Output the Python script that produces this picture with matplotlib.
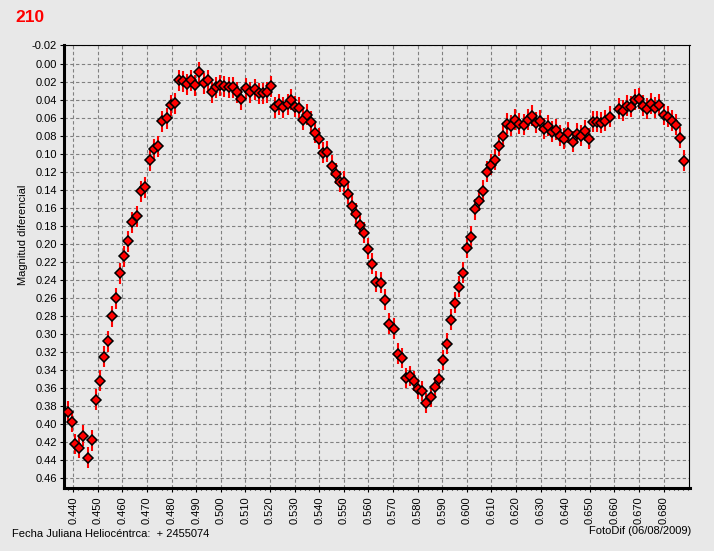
import matplotlib
matplotlib.use("Agg")
import matplotlib.pyplot as plt
from matplotlib.ticker import MultipleLocator, FixedLocator, FormatStrFormatter

plt.rcParams['font.family'] = ['Liberation Sans', 'DejaVu Sans']

# ---------------------------------------------------------------------
# Datos: fecha juliana (fraccion, + 2455074) y magnitud diferencial
# ---------------------------------------------------------------------
fecha = [
    0.4378, 0.4395, 0.4407, 0.4423, 0.4439, 0.4460, 0.4476, 0.4492, 0.4508, 0.4525,
    0.4541, 0.4557, 0.4573, 0.4590, 0.4606, 0.4622, 0.4638, 0.4659, 0.4675, 0.4691,
    0.4712, 0.4728, 0.4744, 0.4760, 0.4781, 0.4797, 0.4813, 0.4831, 0.4847, 0.4864,
    0.4880, 0.4896, 0.4912, 0.4933, 0.4949, 0.4965, 0.4982, 0.4998, 0.5014, 0.5034,
    0.5051, 0.5067, 0.5083, 0.5104, 0.5120, 0.5140, 0.5156, 0.5173, 0.5189, 0.5205,
    0.5221, 0.5238, 0.5254, 0.5274, 0.5286, 0.5303, 0.5319, 0.5335, 0.5351, 0.5368,
    0.5384, 0.5400, 0.5417, 0.5433, 0.5453, 0.5469, 0.5486, 0.5502, 0.5518, 0.5534,
    0.5551, 0.5567, 0.5583, 0.5599, 0.5616, 0.5632, 0.5652, 0.5669, 0.5685, 0.5703,
    0.5719, 0.5735, 0.5751, 0.5768, 0.5784, 0.5800, 0.5817, 0.5833, 0.5853, 0.5869,
    0.5886, 0.5902, 0.5918, 0.5934, 0.5951, 0.5967, 0.5983, 0.5999, 0.6016, 0.6034,
    0.6050, 0.6066, 0.6082, 0.6099, 0.6115, 0.6131, 0.6147, 0.6164, 0.6180, 0.6196,
    0.6212, 0.6233, 0.6249, 0.6265, 0.6282, 0.6298, 0.6314, 0.6330, 0.6347, 0.6363,
    0.6379, 0.6395, 0.6412, 0.6432, 0.6448, 0.6464, 0.6481, 0.6497, 0.6514, 0.6530,
    0.6546, 0.6562, 0.6583, 0.6619, 0.6636, 0.6652, 0.6668, 0.6684, 0.6701, 0.6717,
    0.6733, 0.6749, 0.6766, 0.6782, 0.6802, 0.6818, 0.6835, 0.6851, 0.6867, 0.6883,
]
magnitud = [
    0.3863, 0.3974, 0.4222, 0.4263, 0.4130, 0.4374, 0.4181, 0.3730, 0.3519, 0.3252,
    0.3085, 0.2807, 0.2607, 0.2330, 0.2141, 0.1974, 0.1763, 0.1696, 0.1419, 0.1374,
    0.1074, 0.0952, 0.0919, 0.0641, 0.0607, 0.0463, 0.0441, 0.0185, 0.0196, 0.0230,
    0.0185, 0.0241, 0.0096, 0.0219, 0.0185, 0.0319, 0.0263, 0.0241, 0.0252, 0.0263,
    0.0263, 0.0319, 0.0396, 0.0274, 0.0319, 0.0285, 0.0330, 0.0330, 0.0319, 0.0252,
    0.0485, 0.0452, 0.0485, 0.0452, 0.0400, 0.0478, 0.0489, 0.0622, 0.0567, 0.0644,
    0.0767, 0.0833, 0.0989, 0.0978, 0.1133, 0.1222, 0.1311, 0.1311, 0.1444, 0.1578,
    0.1667, 0.1789, 0.1878, 0.2056, 0.2222, 0.2422, 0.2433, 0.2622, 0.2889, 0.2944,
    0.3222, 0.3267, 0.3489, 0.3467, 0.3522, 0.3611, 0.3633, 0.3767, 0.3700, 0.3589,
    0.3500, 0.3289, 0.3111, 0.2844, 0.2656, 0.2478, 0.2322, 0.2044, 0.1922, 0.1620,
    0.1522, 0.1411, 0.1200, 0.1122, 0.1067, 0.0911, 0.0800, 0.0667, 0.0689, 0.0622,
    0.0667, 0.0678, 0.0622, 0.0578, 0.0656, 0.0633, 0.0722, 0.0689, 0.0756, 0.0733,
    0.0800, 0.0833, 0.0767, 0.0867, 0.0778, 0.0800, 0.0744, 0.0833, 0.0644, 0.0644,
    0.0656, 0.0633, 0.0589, 0.0500, 0.0522, 0.0467, 0.0478, 0.0400, 0.0389, 0.0467,
    0.0500, 0.0444, 0.0489, 0.0456, 0.0567, 0.0589, 0.0633, 0.0678, 0.0822, 0.1078,
]
error_mag = 0.0115

# marcas del eje X (la ultima rotulada es 0.680)
marcas_x = [0.440, 0.450, 0.460, 0.470, 0.480, 0.490, 0.500, 0.510, 0.520, 0.530,
            0.540, 0.550, 0.560, 0.570, 0.580, 0.590, 0.600, 0.610, 0.620, 0.630,
            0.640, 0.650, 0.660, 0.670, 0.680]

titulo = "210"
etiqueta_y = "Magnitud diferencial"
etiqueta_x = "Fecha Juliana Heliocéntrca:  + 2455074"
firma = "FotoDif (06/08/2009)"

FONDO = "#e8e8e8"
W, H = 714, 551

# ---------------------------------------------------------------------
# Figura
# ---------------------------------------------------------------------
fig = plt.figure(figsize=(W / 100, H / 100), dpi=100, facecolor=FONDO)
izq, der, arriba, abajo = 63.7, 689.5, 45.5, 488.0
ax = fig.add_axes([izq / W, 1 - abajo / H, (der - izq) / W, (abajo - arriba) / H])
ax.set_facecolor(FONDO)

ax.errorbar(fecha, magnitud, yerr=error_mag, fmt='none', ecolor='#ff0000',
            elinewidth=1.5, capsize=0, zorder=2)
ax.plot(fecha, magnitud, 'D', ms=5.0, mfc='#ff0000', mec='black', mew=1.1,
        linestyle='none', zorder=3)

ax.set_xlim(0.4361, 0.6905)
ax.set_ylim(0.4711, -0.02)

ax.xaxis.set_major_locator(FixedLocator(marcas_x))
ax.xaxis.set_minor_locator(MultipleLocator(0.002))
ax.xaxis.set_major_formatter(FormatStrFormatter('%.3f'))
ax.yaxis.set_major_locator(MultipleLocator(0.02))
ax.yaxis.set_major_formatter(FormatStrFormatter('%.2f'))

ax.grid(True, which='major', color='#808080', linestyle=(0, (3.0, 2.2)), linewidth=0.8)
ax.set_axisbelow(True)

for lado in ['left', 'bottom']:
    ax.spines[lado].set_linewidth(2.2)
for lado in ['top', 'right']:
    ax.spines[lado].set_linewidth(0.8)

ax.tick_params(axis='y', direction='out', length=3, width=0.8, labelsize=8, pad=2)
ax.tick_params(axis='x', which='major', direction='out', length=3, width=0.8,
               labelsize=8, pad=3, labelrotation=90)
ax.tick_params(axis='x', which='minor', direction='out', length=1.5, width=0.8)

# Textos
fig.text(15 / W, 1 - 17 / H, titulo, color='#ff0000', fontsize=12.5, fontweight='bold',
         va='center', ha='left')
fig.text(23 / W, 1 - 235 / H, etiqueta_y, rotation=90, fontsize=8, va='center', ha='center')
fig.text(12 / W, 1 - 534 / H, etiqueta_x, fontsize=8, va='center', ha='left')
fig.text(691 / W, 1 - 531 / H, firma, fontsize=8, va='center', ha='right')

fig.savefig('out.png', dpi=100, facecolor=FONDO)
